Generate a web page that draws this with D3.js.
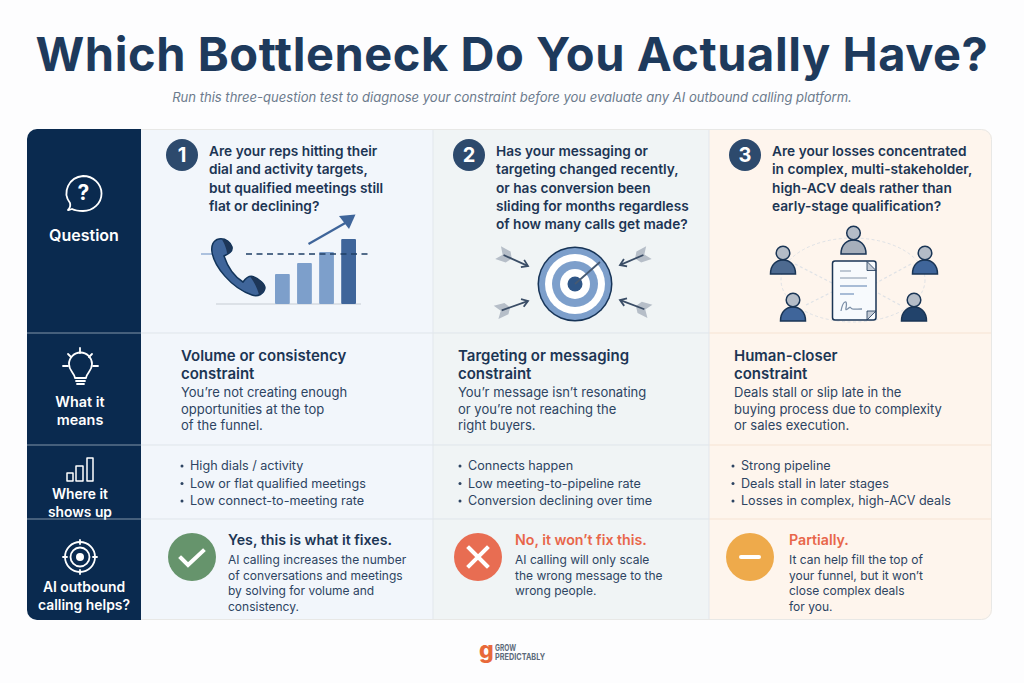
<!DOCTYPE html>
<html><head><meta charset="utf-8">
<script src="https://d3js.org/d3.v7.min.js"></script>
<style>html,body{margin:0;padding:0;background:#fff}svg{display:block}text{font-family:Inter,"Noto Sans",sans-serif}</style>
</head><body><div id="c"></div>
<script>
const title = "Which Bottleneck Do You Actually Have?";
const subtitle = "Run this three-question test to diagnose your constraint before you evaluate any AI outbound calling platform.";
const rowLabels = [["Question"],["What it","means"],["Where it","shows up"],["AI outbound","calling helps?"]];
const rowLabelSizes = [16,14.4,13.8,13.9];
const questions = [
 ["Are your reps hitting their","dial and activity targets,","but qualified meetings still","flat or declining?"],
 ["Has your messaging or","targeting changed recently,","or has conversion been","sliding for months regardless","of how many calls get made?"],
 ["Are your losses concentrated","in complex, multi-stakeholder,","high-ACV deals rather than","early-stage qualification?"]];
const meaningHeads = [["Volume or consistency","constraint"],["Targeting or messaging","constraint"],["Human-closer","constraint"]];
const meaningBodies = [
 ["You’re not creating enough","opportunities at the top","of the funnel."],
 ["You’r message isn’t resonating","or you’re not reaching the","right buyers."],
 ["Deals stall or slip late in the","buying process due to complexity","or sales execution."]];
const bullets = [
 ["High dials / activity","Low or flat qualified meetings","Low connect-to-meeting rate"],
 ["Connects happen","Low meeting-to-pipeline rate","Conversion declining over time"],
 ["Strong pipeline","Deals stall in later stages","Losses in complex, high-ACV deals"]];
const verdicts = ["Yes, this is what it fixes.","No, it won’t fix this.","Partially."];
const verdictBodies = [
 ["AI calling increases the number","of conversations and meetings","by solving for volume and","consistency."],
 ["AI calling will only scale","the wrong message to the","wrong people."],
 ["It can help fill the top of","your funnel, but it won’t","close complex deals","for you."]];
const barCategories = ["a","b","c","d"];
const barValues = [30,41,52,65];
const barTarget = 50;

const W=1024,H=683;
const svg=d3.select("#c").append("svg").attr("width",W).attr("height",H).attr("viewBox",`0 0 ${W} ${H}`);
const defs=svg.append("defs");
const navy="#0a2a4f", ink="#1c3554", body="#2d4462", blue="#7d9fcb", mid="#3f659a", dark="#1f3f66";
const gridX=[27,141,433,709,992];
const colFill=["#f2f6fb","#f0f4f5","#fef5ed"];
const colLine=["#dfe5ea","#dfe5ea","#f6e3d3"];
svg.append("rect").attr("width",W).attr("height",H).attr("fill","#fdfdfe");

defs.append("clipPath").attr("id","tbl").append("rect").attr("x",27).attr("y",129).attr("width",965).attr("height",491).attr("rx",10);
const t=svg.append("g").attr("clip-path","url(#tbl)");
t.append("rect").attr("x",27).attr("y",129).attr("width",114).attr("height",491).attr("fill",navy);
colFill.forEach((f,i)=>t.append("rect").attr("x",gridX[i+1]).attr("y",129).attr("width",gridX[i+2]-gridX[i+1]).attr("height",491).attr("fill",f));
[333,445,519].forEach(y=>{
 t.append("line").attr("x1",27).attr("x2",141).attr("y1",y).attr("y2",y).attr("stroke","#8295a9").attr("stroke-width",1);
 colFill.forEach((f,i)=>t.append("line").attr("x1",gridX[i+1]).attr("x2",gridX[i+2]).attr("y1",y).attr("y2",y).attr("stroke",colLine[i]).attr("stroke-width",1));
});
[433,709].forEach(x=>t.append("line").attr("x1",x).attr("x2",x).attr("y1",129).attr("y2",620).attr("stroke","#e2e7ec"));
svg.append("path").attr("d","M141,129.5H981.5a10,10 0 0 1 10,10V609.5a10,10 0 0 1 -10,10H141").attr("fill","none").attr("stroke","#e8e8e6");

function lines(g,arr,x,y0,dy,o){arr.forEach((s,i)=>g.append("text").attr("x",x).attr("y",y0+i*dy).attr("font-size",o.size).attr("font-weight",o.weight||400).attr("fill",o.fill).attr("text-anchor",o.anchor||"start").attr("letter-spacing",o.ls||0).text(s));}

svg.append("text").attr("x",512).attr("y",71).attr("text-anchor","middle").attr("font-size",47).attr("font-weight",700).attr("fill","#1e3a5c").attr("letter-spacing",.55).text(title);
svg.append("text").attr("x",512).attr("y",102).attr("text-anchor","middle").attr("font-size",13.05).attr("font-style","italic").attr("fill","#6c7b8d").text(subtitle);

// nav labels
const navX=[84,80,80,84], navY=[241,407,499,592];
rowLabels.forEach((l,i)=>lines(svg,l,navX[i],navY[i],17.6,{size:rowLabelSizes[i],weight:600,fill:"#fff",anchor:"middle"}));

// nav icons
const w=svg.append("g").attr("fill","none").attr("stroke","#fff").attr("stroke-width",1.8).attr("stroke-linecap","round").attr("stroke-linejoin","round");
w.append("path").attr("d","M83,176a18,17 0 0 1 0,35 q-7,0 -11,-2 l-3,1 -1,0 q3,-3 2,-7 a18,17 0 0 1 13,-27Z");
svg.append("text").attr("x",83.5).attr("y",200).attr("text-anchor","middle").attr("font-size",21).attr("font-weight",700).attr("fill","#fff").text("?");
// bulb
w.append("path").attr("d","M75,378 C74,372 69,371 69,364 A11.5,11.5 0 1 1 92,364 C92,371 87,372 86,378Z");
w.append("path").attr("d","M76,381H85M77,384H84");
[[63,366,68,366],[93,366,98,366],[80,348,80,353],[68,354,71,357],[92,354,89,357]].forEach(d=>w.append("line").attr("x1",d[0]).attr("y1",d[1]).attr("x2",d[2]).attr("y2",d[3]));
// bars icon
const iconBars=[[67,473,6,8],[76,466,7,15],[87,458,6,23]];
iconBars.forEach(b=>w.append("rect").attr("x",b[0]).attr("y",b[1]).attr("width",b[2]).attr("height",b[3]).attr("stroke-width",1.5));
// target icon
w.append("circle").attr("cx",80).attr("cy",557).attr("r",15);
w.append("circle").attr("cx",80).attr("cy",557).attr("r",9.5);
svg.append("circle").attr("cx",80).attr("cy",557).attr("r",4).attr("fill","#fff");
[[80,540,80,544],[80,570,80,574],[63,557,67,557],[93,557,97,557]].forEach(d=>w.append("line").attr("x1",d[0]).attr("y1",d[1]).attr("x2",d[2]).attr("y2",d[3]));

// question row
const qNumX=[182,469,745], qX=[209,496,772];
questions.forEach((q,i)=>{
 svg.append("circle").attr("cx",qNumX[i]).attr("cy",155).attr("r",16).attr("fill","#2d4a6d");
 svg.append("text").attr("x",qNumX[i]).attr("y",162).attr("text-anchor","middle").attr("font-size",20).attr("font-weight",700).attr("fill","#fff").text(i+1);
 lines(svg,q,qX[i],156,18.3,{size:13.7,weight:600,fill:ink});
});

// meaning row
const mX=[181,458,734];
meaningHeads.forEach((h,i)=>{
 lines(svg,h,mX[i],361,18,{size:15,weight:600,fill:ink});
 lines(svg,meaningBodies[i],mX[i],397,16.6,{size:13,fill:body});
});
// bullets
const bX=[190,468,741];
bullets.forEach((b,i)=>{
 lines(svg,b,bX[i],470,17.5,{size:12.6,fill:body});
 b.forEach((s,j)=>svg.append("circle").attr("cx",bX[i]-8).attr("cy",466+j*17.5).attr("r",1.5).attr("fill",body));
});
// verdicts
const vC=[192,478,750], vX=[228,515,789], vFill=["#66946c","#e86d52","#eeaa4b"], vHead=[ink,"#e8664a","#e8664a"];
verdicts.forEach((v,i)=>{
 svg.append("circle").attr("cx",vC[i]).attr("cy",557).attr("r",24).attr("fill",vFill[i]);
 lines(svg,[v],vX[i],545,0,{size:14.2,weight:600,fill:vHead[i]});
 lines(svg,verdictBodies[i],vX[i],564,15.5,{size:12,fill:body});
});
const mk=svg.append("g").attr("fill","none").attr("stroke","#fff").attr("stroke-width",4).attr("stroke-linecap","square");
mk.append("path").attr("d","M181,558L188,565L203,551").attr("stroke-linejoin","miter");
mk.append("path").attr("d","M469,548L487,566M487,548L469,566");
mk.append("path").attr("d","M741,557H759").attr("stroke-linecap","round");

// chart illustration
const xB=d3.scaleBand().domain(barCategories).range([275,356]).paddingInner(.33).paddingOuter(0);
const yB=d3.scaleLinear().domain([0,65]).range([304,239]);
svg.append("line").attr("x1",216).attr("x2",361).attr("y1",304).attr("y2",304).attr("stroke","#d5dae0").attr("stroke-width",1.5);
svg.selectAll(".bar").data(barValues).join("rect").attr("class","bar")
 .attr("x",(d,i)=>xB(barCategories[i])).attr("width",xB.bandwidth()).attr("y",d=>yB(d)).attr("height",d=>yB(0)-yB(d)).attr("rx",1)
 .attr("fill",(d,i)=>i===3?mid:blue);
svg.append("line").attr("x1",246).attr("x2",371).attr("y1",yB(barTarget)).attr("y2",yB(barTarget)).attr("stroke",dark).attr("stroke-width",1.6).attr("stroke-dasharray","6 4.5");
svg.append("line").attr("x1",201).attr("x2",214).attr("y1",yB(barTarget)).attr("y2",yB(barTarget)).attr("stroke",blue).attr("stroke-width",1.2);
svg.append("path").attr("d","M308.5,244 L347,222").attr("stroke",mid).attr("stroke-width",2.2).attr("fill","none");
svg.append("path").attr("d","M339,216L355.5,214.5L349,229Z").attr("fill",mid);
// phone
svg.append("path").attr("d","M219,239C213,240 211,246 212,252C214,266 231,288 252,295C258,297 264,294 265,288C265,284 259,279 254,277C250,275 246,278 243,282C235,277 228,268 224,256C228,254 233,252 232,247C231,243 226,238 219,239Z").attr("fill",mid).attr("stroke","#12345a").attr("stroke-width",1.5);
svg.append("path").attr("d","M222,239.5C227,240 231,243 232,247C232.5,250 230,252 227,254C227,249 224,243 222,239.5Z").attr("fill","#1d3658");
svg.append("path").attr("d","M254,277C259,279 265,284 265,288C264,291 262,293 259,295C258,290 255,283 250,276.5Z").attr("fill","#1d3658");

// target
const tg={x:575,y:284};
[[37.5,"#173457"],[36,blue],[30,"#fff"],[23,blue],[15,"#fff"],[7.5,"#2f5687"]].forEach(r=>svg.append("circle").attr("cx",tg.x).attr("cy",tg.y).attr("r",r[0]).attr("fill",r[1]));
svg.append("line").attr("x1",tg.x).attr("y1",tg.y).attr("x2",600).attr("y2",262).attr("stroke","#465a73").attr("stroke-width",1.8);
function arrow(x1,y1,x2,y2){
 const a=Math.atan2(y2-y1,x2-x1)*180/Math.PI, L=Math.hypot(x2-x1,y2-y1);
 const g=svg.append("g").attr("transform",`translate(${x1},${y1}) rotate(${a})`);
 g.append("path").attr("d",`M-1,-7L10,-6L14,0L10,6L-1,7L4,0Z`).attr("fill","#b6bec8");
 g.append("line").attr("x1",5).attr("x2",L-1).attr("y1",0).attr("y2",0).attr("stroke","#3a4d66").attr("stroke-width",1.8);
 g.append("path").attr("d",`M${L-6},-4L${L},0L${L-6},4`).attr("fill","none").attr("stroke","#3a4d66").attr("stroke-width",1.8);
}
arrow(499,253,528,266); arrow(648,253,620,265); arrow(497,312,528,301); arrow(649,311,620,300);

// people
const pc=svg.append("g").attr("fill","none").attr("stroke","#dfe2e6").attr("stroke-width",1).attr("stroke-dasharray","3 2.5");
pc.append("ellipse").attr("cx",853).attr("cy",280).attr("rx",72).attr("ry",42);
[[795,264,832,283],[911,264,876,283],[806,305,832,292],[900,305,876,292]].forEach(d=>pc.append("line").attr("x1",d[0]).attr("y1",d[1]).attr("x2",d[2]).attr("y2",d[3]).attr("stroke-dasharray",null).attr("stroke-width",1.2));
function person(x,y,fill){
 const g=svg.append("g").attr("stroke","#1a3555").attr("stroke-width",1.5);
 g.append("path").attr("d",`M${x-12.5},${y+21}C${x-12.5},${y+11} ${x-6},${y+7} ${x},${y+7}C${x+6},${y+7} ${x+12.5},${y+11} ${x+12.5},${y+21}Z`).attr("fill",fill);
 g.append("circle").attr("cx",x).attr("cy",y).attr("r",6.8).attr("fill","#b4bcc7");
}
person(853.5,233,"#a6afbb"); person(783,253,"#4d6a90"); person(925,253,"#3f659a"); person(793,300,"#3f659a"); person(914,300,"#22436b");
svg.append("rect").attr("x",832.5).attr("y",261).attr("width",43.5).attr("height",59).attr("rx",2.5).attr("fill","#f7fafd").attr("stroke","#1a3555").attr("stroke-width",1.5);
svg.append("path").attr("d","M867,261.5L876,270.5H867Z").attr("fill","#c3cbd6").attr("stroke","#1a3555").attr("stroke-width",.8);
svg.append("path").attr("d","M867,320L876,311H867Z").attr("fill","#c3cbd6").attr("stroke","#1a3555").attr("stroke-width",.8);
const docL=[[840,851,271,"#aab6c4"],[840,867,278,"#aab6c4"],[840,867,286,"#8ea7c8"],[840,854,294,"#8ea7c8"]];
docL.forEach(d=>svg.append("line").attr("x1",d[0]).attr("x2",d[1]).attr("y1",d[2]).attr("y2",d[2]).attr("stroke",d[3]).attr("stroke-width",1.5));
svg.append("path").attr("d","M841,311C843,300 848,299 846,308C845,313 850,305 851,308C852,310 856,309 862,309").attr("fill","none").attr("stroke","#7d90a8").attr("stroke-width",1.3);

// logo
svg.append("text").attr("x",479).attr("y",658).attr("font-size",23).attr("font-weight",800).attr("fill","#e8693a").text("g");
svg.append("text").attr("x",495).attr("y",651).attr("font-family","Liberation Sans").attr("font-size",9).attr("font-weight",700).attr("fill","#5c6a7a").attr("textLength",21).attr("lengthAdjust","spacingAndGlyphs").text("GROW");
svg.append("text").attr("x",495).attr("y",660).attr("font-family","Liberation Sans").attr("font-size",9).attr("font-weight",700).attr("fill","#5c6a7a").attr("textLength",50).attr("lengthAdjust","spacingAndGlyphs").text("PREDICTABLY");
</script></body></html>
